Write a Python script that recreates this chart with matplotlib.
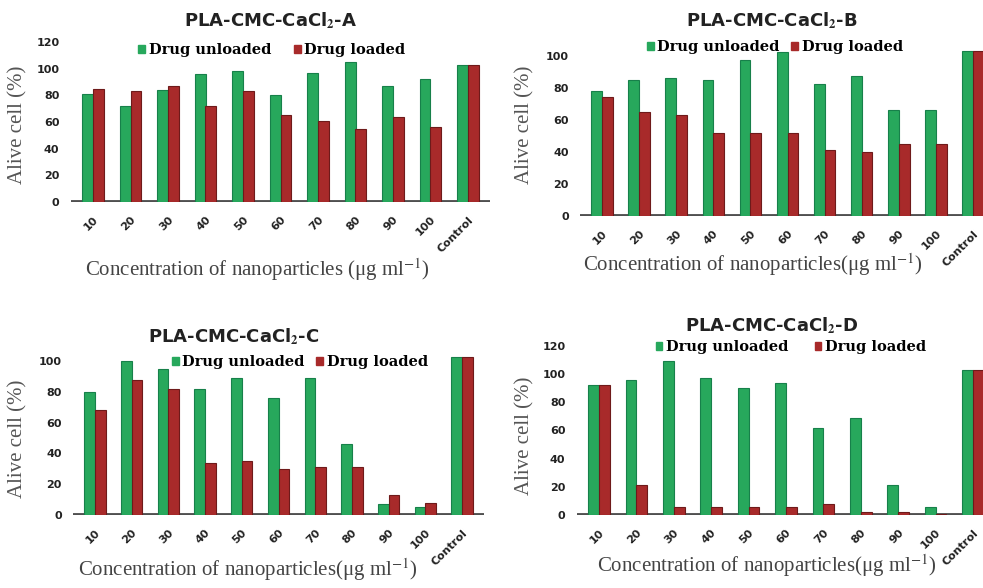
import numpy as np
import matplotlib
matplotlib.use("Agg")
import matplotlib.pyplot as plt
from matplotlib.patches import Patch

# data (alive cell %)
categories = ["10", "20", "30", "40", "50", "60", "70", "80", "90", "100", "Control"]

unloaded_A = [81, 72, 84, 96, 98, 80, 97, 105, 87, 92, 103]
loaded_A = [85, 83, 87, 72, 83, 65, 61, 55, 64, 56, 103]

unloaded_B = [78, 85, 86, 85, 97, 102, 82, 87, 66, 66, 103]
loaded_B = [74, 65, 63, 52, 52, 52, 41, 40, 45, 45, 103]

unloaded_C = [80, 100, 95, 82, 89, 76, 89, 46, 7, 5, 103]
loaded_C = [68, 88, 82, 34, 35, 30, 31, 31, 13, 8, 103]

unloaded_D = [92, 96, 109, 97, 90, 94, 62, 69, 21, 6, 103]
loaded_D = [92, 21, 6, 6, 6, 6, 8, 2, 2, 1, 103]

GREEN = "#27a85c"
GREEN_DARK = "#17804a"
RED = "#a82a2a"
RED_DARK = "#6e1a1a"
FLOOR = "#505050"

plt.rcParams["mathtext.fontset"] = "stix"

W, H = 983, 588
fig = plt.figure(figsize=(W / 100, H / 100), dpi=100)


def fx(px):
    return px / W


def fy(py):
    return 1 - py / H


def panel(unl, lod, name, c0, c10, y0px, ytop_px, ymax, yticks,
          title_xy, leg_xy, xlab_xy, ylab_xy, xlab_text, colsp):
    s = (c10 - c0) / 10
    left = c0 - 0.6 * s
    right = c10 + 0.6 * s
    ax = fig.add_axes([fx(left), fy(y0px), (right - left) / W, (y0px - ytop_px) / H])
    x = np.arange(len(categories))
    w = 0.29
    ax.axhline(0, color=FLOOR, lw=3.5, zorder=1)
    ax.bar(x - w / 2, unl, w, color=GREEN, edgecolor=GREEN_DARK, linewidth=0.8, zorder=2)
    ax.bar(x + w / 2, lod, w, color=RED, edgecolor=RED_DARK, linewidth=0.8, zorder=2)
    ax.set_xlim(-0.6, 10.6)
    ax.set_ylim(0, ymax)
    ax.set_yticks(yticks)
    ax.set_xticks(x)
    ax.set_xticklabels(categories, rotation=45, ha="right", rotation_mode="anchor")
    for lab in ax.get_xticklabels() + ax.get_yticklabels():
        lab.set_fontweight("bold")
        lab.set_fontsize(8)
        lab.set_color("#222222")
    ax.tick_params(axis="x", length=0, pad=9)
    ax.tick_params(axis="y", length=0, pad=8)
    for sp in ax.spines.values():
        sp.set_visible(False)
    ax.patch.set_alpha(0)

    fig.text(fx(title_xy[0]), fy(title_xy[1]), r"PLA-CMC-CaCl$_\mathbf{2}$-" + name,
             ha="center", va="center", fontsize=13, fontweight="bold", color="#222222")
    handles = [Patch(color=GREEN, label="Drug unloaded"), Patch(color=RED, label="Drug loaded")]
    ax.legend(handles=handles, loc="center", bbox_to_anchor=(fx(leg_xy[0]), fy(leg_xy[1])),
              bbox_transform=fig.transFigure, ncol=2, frameon=False,
              handlelength=0.45, handleheight=0.45, handletextpad=0.25, columnspacing=colsp,
              prop={"family": "DejaVu Serif", "weight": "bold", "size": 10.5})
    fig.text(fx(xlab_xy[0]), fy(xlab_xy[1]), xlab_text,
             ha="center", va="center", fontsize=15, family="Liberation Serif", color="#444444")
    fig.text(fx(ylab_xy[0]), fy(ylab_xy[1]), "Alive cell (%)", rotation=90,
             ha="center", va="center", fontsize=15, family="Liberation Serif", color="#555555")
    return ax


lab_space = r"Concentration of nanoparticles (μg ml$^{-1}$)"
lab_tight = r"Concentration of nanoparticles(μg ml$^{-1}$)"

panel(unloaded_A, loaded_A, "A", 93, 468, 202, 42, 120, range(0, 121, 20),
      (271, 21), (272, 50), (257, 270), (18, 125), lab_space, 1.6)
panel(unloaded_B, loaded_B, "B", 602, 973, 216, 46, 106, range(0, 101, 20),
      (772, 21), (775, 47), (753, 265), (525, 125), lab_tight, 0.8)
panel(unloaded_C, loaded_C, "C", 95, 462, 515, 352, 106, range(0, 101, 20),
      (234, 337), (300, 362), (248, 570), (18, 439), lab_tight, 0.8)
panel(unloaded_D, loaded_D, "D", 599, 973, 515, 346, 120, range(0, 121, 20),
      (772, 326), (791, 347), (767, 566), (525, 436), lab_tight, 1.8)

fig.savefig("out.png", dpi=100)
